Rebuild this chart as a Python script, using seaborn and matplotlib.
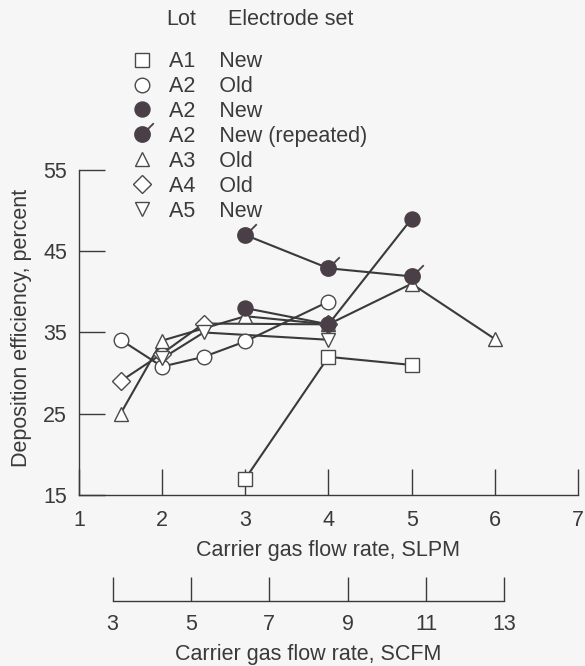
import matplotlib
matplotlib.use("Agg")
import matplotlib.pyplot as plt
from matplotlib.path import Path
from matplotlib.lines import Line2D
import pandas as pd
import seaborn as sns

# Deposition efficiency (percent) versus carrier gas flow rate (SLPM)
a1_new_x = [3, 4, 5]
a1_new_y = [17.0, 32.0, 31.0]

a2_old_x = [1.5, 2, 2.5, 3, 4]
a2_old_y = [34.1, 30.8, 32.0, 33.9, 38.8]

a2_new_x = [3, 4, 5]
a2_new_y = [38.0, 36.0, 49.0]

a2_rep_x = [3, 4, 5]
a2_rep_y = [47.0, 42.9, 41.9]

a3_old_x = [1.5, 2, 3, 4, 5, 6]
a3_old_y = [25.0, 34.0, 37.0, 36.0, 41.0, 34.2]

a4_old_x = [1.5, 2, 2.5, 4]
a4_old_y = [29.0, 32.4, 36.1, 36.0]

a5_new_x = [2, 2.5, 4]
a5_new_y = [31.8, 35.0, 34.1]

lots = ["A1", "A2", "A2", "A2", "A3", "A4", "A5"]
electrode_sets = ["New", "Old", "New", "New (repeated)", "Old", "Old", "New"]

slpm_ticks = [1, 2, 3, 4, 5, 6, 7]
scfm_ticks = [3, 5, 7, 9, 11, 13]
eff_ticks = [15, 25, 35, 45, 55]

sns.set_style("ticks")
plt.rcParams["font.family"] = ["Liberation Sans", "DejaVu Sans"]

INK = "#3a3a3a"
DOT = "#4a3f46"
EDGE = "#4a4a4a"
BG = "#f6f6f6"
FS = 15.5

# Filled circle carrying a short flag, used for the repeated run
flag_marker = Path.make_compound_path(
    Path.unit_circle(),
    Path([(0.78, 0.78), (1.5, 1.5)], [Path.MOVETO, Path.LINETO]),
)
FLAG_SCALE = 1.5

# one entry per key row: x, y, marker, size, face colour, edge width
series = [
    (a1_new_x, a1_new_y, "s", 10.5, "white", 1.0),
    (a2_old_x, a2_old_y, "o", 10.5, "white", 1.0),
    (a2_new_x, a2_new_y, "o", 10.8, DOT, 1.0),
    (a2_rep_x, a2_rep_y, flag_marker, 10.8 * FLAG_SCALE, DOT, 1.3),
    (a3_old_x, a3_old_y, "^", 10.5, "white", 1.0),
    (a4_old_x, a4_old_y, "D", 9.6, "white", 1.0),
    (a5_new_x, a5_new_y, "v", 10.5, "white", 1.0),
]
# open symbols underneath, filled circles on top
draw_order = [0, 1, 5, 6, 4, 2, 3]

fig = plt.figure(figsize=(5.85, 6.66), dpi=100, facecolor=BG)
ax = fig.add_axes([0.1350, 0.2568, 0.8530, 0.4880])
ax.set_facecolor(BG)

# connecting lines first, markers on top
for i in draw_order:
    x, y, m, ms, fc, mew = series[i]
    df = pd.DataFrame({"flow": x, "eff": y})
    sns.lineplot(data=df, x="flow", y="eff", ax=ax, color=INK, linewidth=1.5,
                 errorbar=None, zorder=2, clip_on=False)
for i in draw_order:
    x, y, m, ms, fc, mew = series[i]
    df = pd.DataFrame({"flow": x, "eff": y})
    ec = DOT if fc == DOT else EDGE
    sns.lineplot(data=df, x="flow", y="eff", ax=ax, linestyle="none",
                 marker=m, markersize=ms, markerfacecolor=fc,
                 markeredgecolor=ec, markeredgewidth=mew,
                 errorbar=None, zorder=3, clip_on=False)

ax.set_xlim(1, 7)
ax.set_ylim(15, 55)
ax.set_xticks(slpm_ticks)
ax.set_yticks(eff_ticks)
sns.despine(ax=ax)
for s in ("left", "bottom"):
    ax.spines[s].set_color(INK)
    ax.spines[s].set_linewidth(1.0)
ax.tick_params(direction="in", length=18.5, width=1.0, color=INK,
               labelsize=FS, labelcolor=INK)
ax.tick_params(axis="x", pad=10.5)
ax.tick_params(axis="y", pad=8.5)
ax.set_xlabel("Carrier gas flow rate, SLPM", fontsize=FS, color=INK, va="top")
ax.set_ylabel("Deposition efficiency, percent", fontsize=FS, color=INK)
ax.xaxis.set_label_coords(0.5, -0.14)
ax.yaxis.set_label_coords(-0.095, 0.515)

# companion scale in SCFM
ax2 = fig.add_axes([0.1926, 0.0976, 0.6694, 0.05])
ax2.set_facecolor("none")
ax2.set_xlim(3, 13)
ax2.set_xticks(scfm_ticks)
ax2.set_yticks([])
for s in ("left", "top", "right"):
    ax2.spines[s].set_visible(False)
ax2.spines["bottom"].set_color(INK)
ax2.spines["bottom"].set_linewidth(1.0)
ax2.tick_params(axis="x", direction="in", length=17, width=1.0, color=INK,
                labelsize=FS, labelcolor=INK, pad=9.5)
ax2.set_xlabel("Carrier gas flow rate, SCFM", fontsize=FS, color=INK, va="top")
ax2.xaxis.set_label_coords(0.5, -1.28)

# key
handles = []
labels = []
for i, (x, y, m, ms, fc, mew) in enumerate(series):
    ec = DOT if fc == DOT else EDGE
    handles.append(Line2D([], [], linestyle="none", marker=m, markersize=ms,
                          markerfacecolor=fc, markeredgecolor=ec,
                          markeredgewidth=mew))
    labels.append(f"{lots[i]}    {electrode_sets[i]}")
leg = fig.legend(handles, labels, loc="upper left",
                 bbox_to_anchor=(0.224, 0.923), frameon=False, fontsize=FS,
                 handlelength=1.0, handletextpad=0.75, labelspacing=0.18,
                 borderpad=0, borderaxespad=0)
for t in leg.get_texts():
    t.set_color(INK)
fig.text(0.2838, 0.970, "Lot", fontsize=FS, color=INK, va="center", ha="left")
fig.text(0.3897, 0.970, "Electrode set", fontsize=FS, color=INK,
         va="center", ha="left")

fig.savefig("out.png", dpi=100, facecolor=BG)
